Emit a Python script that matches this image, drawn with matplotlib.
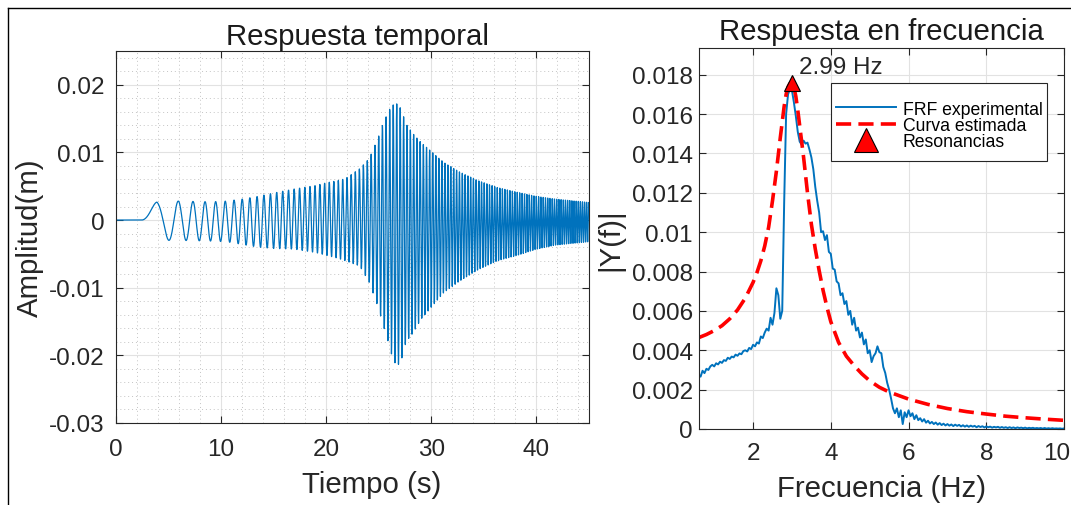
import numpy as np
import matplotlib.pyplot as plt
import matplotlib.transforms as mtransforms
from matplotlib.lines import Line2D
from matplotlib.patches import Rectangle
from matplotlib.ticker import MultipleLocator, FuncFormatter

plt.rcParams['font.family'] = ['Liberation Sans', 'DejaVu Sans']

# time response: envelope of the sweep (upper / lower) and its instantaneous frequency
env_t = [2.4, 3.9, 6, 9, 10.5, 12, 13.5, 15, 17, 19,
         20, 21, 21.8, 23.2, 24.1, 24.9, 25.4, 25.9, 26.3, 26.7,
         27.1, 27.6, 28.3, 29, 30.1, 31.2, 32.7, 34.5, 36.3, 38.2,
         40, 41.8, 45]
env_upper = [0, 0.0028, 0.0028, 0.0027, 0.0028, 0.0031, 0.0035, 0.0040, 0.0046, 0.0051,
             0.0055, 0.0058, 0.0061, 0.0076, 0.0091, 0.0120, 0.0142, 0.0160, 0.0170, 0.0172,
             0.0165, 0.0142, 0.0127, 0.0115, 0.0100, 0.0085, 0.0071, 0.0058, 0.0048, 0.0041,
             0.0035, 0.0031, 0.0026]
env_lower = [0, -0.0030, -0.0030, -0.0031, -0.0032, -0.0036, -0.0040, -0.0042, -0.0043, -0.0048,
             -0.0052, -0.0056, -0.0060, -0.0068, -0.0092, -0.0127, -0.0154, -0.0180, -0.0203, -0.0216,
             -0.0210, -0.0180, -0.0166, -0.0147, -0.0127, -0.0107, -0.0090, -0.0073, -0.0060, -0.0052,
             -0.0043, -0.0037, -0.0032]
sweep_t = [2.4, 3.9, 5.0, 5.9, 6.6, 7.3, 8.4, 10, 15, 20, 26.5, 35, 45]
sweep_hz = [0.12, 0.28, 0.5, 0.62, 0.71, 0.8, 0.93, 1.1, 1.68, 2.25, 2.99, 3.95, 5.1]

# experimental FRF, bins every 0.05 Hz starting at 0.60 Hz
frf_f0 = 0.60
frf_df = 0.05
frf_mag = [
    0.00278, 0.00266, 0.00296, 0.00284, 0.00306, 0.00300, 0.00318, 0.00326, 0.00318, 0.00334,
    0.00328, 0.00342, 0.00336, 0.00350, 0.00346, 0.00362, 0.00356, 0.00368, 0.00364, 0.00378,
    0.00372, 0.00384, 0.00380, 0.00396, 0.00400, 0.00394, 0.00412, 0.00406, 0.00428, 0.00420,
    0.00440, 0.00434, 0.00470, 0.00462, 0.00490, 0.00510, 0.00500, 0.00565, 0.00530, 0.00590,
    0.00715, 0.00680, 0.00560, 0.00600, 0.01150, 0.01600, 0.01700, 0.01730, 0.01720, 0.01660,
    0.01590, 0.01510, 0.01460, 0.01445, 0.01465, 0.01450, 0.01455, 0.01420, 0.01380, 0.01320,
    0.01230, 0.01160, 0.01100, 0.01000, 0.01005, 0.00960, 0.00985, 0.00900, 0.00890, 0.00815,
    0.00810, 0.00750, 0.00740, 0.00680, 0.00690, 0.00635, 0.00650, 0.00580, 0.00600, 0.00530,
    0.00565, 0.00500, 0.00515, 0.00465, 0.00490, 0.00430, 0.00455, 0.00385, 0.00400, 0.00340,
    0.00370, 0.00385, 0.00420, 0.00390, 0.00385, 0.00315, 0.00285, 0.00235, 0.00200, 0.00155,
    0.00105, 0.00080, 0.00105, 0.00060, 0.00095, 0.00025, 0.00085, 0.00060, 0.00095, 0.00065,
    0.00080, 0.00050, 0.00070, 0.00045, 0.00055, 0.00038, 0.00050, 0.00032, 0.00042, 0.00028,
    0.00036, 0.00025, 0.00033, 0.00022, 0.00030, 0.00020, 0.00027, 0.00018, 0.00025, 0.00017,
    0.00023, 0.00015, 0.00022, 0.00016, 0.00021, 0.00013, 0.00019, 0.00012, 0.00018, 0.00011,
    0.00017, 0.00012, 0.00016, 0.00009, 0.00015, 0.00010, 0.00014, 0.00008, 0.00013, 0.00009,
    0.00012, 0.00007, 0.00011, 0.00008, 0.00011, 0.00006, 0.00010, 0.00006, 0.00009, 0.00005,
    0.00009, 0.00005, 0.00008, 0.00004, 0.00008, 0.00005, 0.00007, 0.00004, 0.00007, 0.00003,
    0.00006, 0.00004, 0.00006, 0.00003, 0.00005, 0.00003, 0.00005, 0.00002, 0.00005, 0.00002,
    0.00004, 0.00002, 0.00004, 0.00002, 0.00003, 0.00002, 0.00003, 0.00001, 0.00003,
]

# fitted curve
fit_freq = [0.61, 0.8, 1.0, 1.2, 1.4, 1.6, 1.8, 2.0, 2.1, 2.2, 2.3, 2.4, 2.5, 2.6, 2.7, 2.8,
            2.85, 2.9, 2.95, 2.99, 3.05, 3.1, 3.15, 3.2, 3.3, 3.4, 3.5, 3.6, 3.7, 3.8, 3.9, 4.0,
            4.2, 4.4, 4.6, 4.8, 5.0, 5.25, 5.5, 6.0, 6.5, 7.0, 7.5, 8.0, 8.5, 9.0, 9.5, 10.0]
fit_mag = [0.00465, 0.00480, 0.00500, 0.00525, 0.00560, 0.00605, 0.00665, 0.00745,
           0.00795, 0.00855, 0.00930, 0.01025, 0.01160, 0.01310, 0.01480, 0.01640,
           0.01700, 0.01738, 0.01756, 0.01760, 0.01738, 0.01690, 0.01620, 0.01540,
           0.01380, 0.01200, 0.01040, 0.00915, 0.00805, 0.00705, 0.00620, 0.00545,
           0.00440, 0.00370, 0.00322, 0.00280, 0.00245, 0.00212, 0.00188,
           0.00152, 0.00125, 0.00104, 0.00088, 0.00076, 0.00065, 0.00057, 0.00050, 0.00044]

peak_freq = 2.99
peak_mag = 0.0176

dark = '#262626'
blue = '#0072BD'

# build the sweep response from the envelope and frequency tables
dt = 0.005
t = np.arange(0, 45 + dt / 2, dt)
f_inst = np.interp(t, sweep_t, sweep_hz, left=0)
phase = 2 * np.pi * np.cumsum(f_inst) * dt
up = np.interp(t, env_t, env_upper, left=0)
lo = np.interp(t, env_t, env_lower, left=0)
y = (up + lo) / 2 + (up - lo) / 2 * np.sin(phase)

frf_freq = frf_f0 + frf_df * np.arange(len(frf_mag))


def fmt(v, pos):
    if abs(v) < 1e-12:
        return '0'
    return f'{round(v, 6):g}'


def matlab_axes(ax):
    for s in ax.spines.values():
        s.set_color(dark)
        s.set_linewidth(0.8)
    ax.tick_params(which='major', direction='in', length=5, width=0.8, color=dark,
                   labelcolor=dark, labelsize=17.5, top=True, right=True)
    ax.grid(True, which='major', color='#e2e2e2', linewidth=0.8)
    ax.set_axisbelow(True)
    ax.yaxis.set_major_formatter(FuncFormatter(fmt))


fig = plt.figure(figsize=(10.71, 5.06), dpi=100)

# left: time response
ax1 = fig.add_axes([0.1083, 0.1621, 0.4416, 0.7352])
matlab_axes(ax1)
ax1.xaxis.set_minor_locator(MultipleLocator(2))
ax1.yaxis.set_minor_locator(MultipleLocator(0.002))
ax1.grid(True, which='minor', color='#c4c4c4', linestyle=(0, (1, 3)), linewidth=0.7)
ax1.tick_params(which='minor', length=0)
ax1.plot(t, y, color=blue, lw=0.9)
ax1.set_xlim(0, 45)
ax1.set_ylim(-0.03, 0.025)
ax1.set_xticks([0, 10, 20, 30, 40])
ax1.set_yticks([-0.03, -0.02, -0.01, 0, 0.01, 0.02])
ax1.tick_params(axis='x', pad=10.5)
ax1.tick_params(axis='y', pad=8)
ax1.set_xlabel('Tiempo (s)', fontsize=21.2, color=dark, va='baseline')
ax1.xaxis.set_label_coords(0.54, -0.185)
ax1.set_ylabel('Amplitud(m)', fontsize=21.2, color=dark, va='center')
ax1.yaxis.set_label_coords(-0.182, 0.5)
ax1.text(0.51, 1.019, 'Respuesta temporal', transform=ax1.transAxes, ha='center',
         va='baseline', fontsize=21.2, color='#1a1a1a')

# right: frequency response
ax2 = fig.add_axes([0.6527, 0.1502, 0.3408, 0.7530])
matlab_axes(ax2)
ax2.plot(frf_freq, frf_mag, color=blue, lw=1.4, label='FRF experimental')
ax2.plot(fit_freq, fit_mag, color='red', lw=2.6, ls=(0, (4.2, 2.0)), label='Curva estimada')
ax2.plot([peak_freq], [peak_mag], ls='none', marker='^', ms=12, mfc='red', mec='black',
         mew=0.8, label='Resonancias')
ax2.annotate(f'{peak_freq:.2f} Hz', xy=(peak_freq, peak_mag), xytext=(7, 16),
             textcoords='offset pixels', ha='left', va='center', fontsize=17.5, color=dark)
ax2.set_xlim(0.61, 10)
ax2.set_ylim(0, 0.01936)
ax2.set_xticks([2, 4, 6, 8, 10])
ax2.set_yticks([0, 0.002, 0.004, 0.006, 0.008, 0.01, 0.012, 0.014, 0.016, 0.018])
ax2.tick_params(axis='x', pad=9.5)
ax2.tick_params(axis='y', pad=4.5)
ax2.set_xlabel('Frecuencia (Hz)', fontsize=21.2, color=dark, va='baseline')
ax2.xaxis.set_label_coords(0.5, -0.176)
ax2.set_ylabel('|Y(f)|', fontsize=21.2, color=dark, va='center')
ax2.yaxis.set_label_coords(-0.244, 0.5)
ax2.text(0.5, 1.024, 'Respuesta en frecuencia', transform=ax2.transAxes, ha='center',
         va='baseline', fontsize=21.2, color='#1a1a1a')

# the last frequency label sits at the figure edge, nudge it inwards
last = ax2.get_xticklabels()[-1]
last.set_transform(last.get_transform()
                   + mtransforms.ScaledTranslation(-5 / 72, 0, fig.dpi_scale_trans))

# legend box drawn separately so the padding can differ horizontally / vertically
ax2.add_patch(Rectangle((0.3608, 0.7034), 0.5934, 0.2047, transform=ax2.transAxes,
                        facecolor='white', edgecolor=dark, lw=0.8, zorder=4))
leg = ax2.legend(loc='center', bbox_to_anchor=(0.6575, 0.797), fontsize=12.7,
                 frameon=False, borderpad=0, labelspacing=-0.04, handlelength=3.4,
                 handletextpad=0.4, borderaxespad=0, markerscale=1.4)
leg.set_zorder(5)

# frame lines around the figure
fig.add_artist(Line2D([8 / 1071, 8 / 1071], [0, 1 - 9 / 506], transform=fig.transFigure,
                      color='black', lw=1))
fig.add_artist(Line2D([8 / 1071, 1], [1 - 9 / 506, 1 - 9 / 506], transform=fig.transFigure,
                      color='black', lw=1))

fig.savefig('out.png', dpi=100)
